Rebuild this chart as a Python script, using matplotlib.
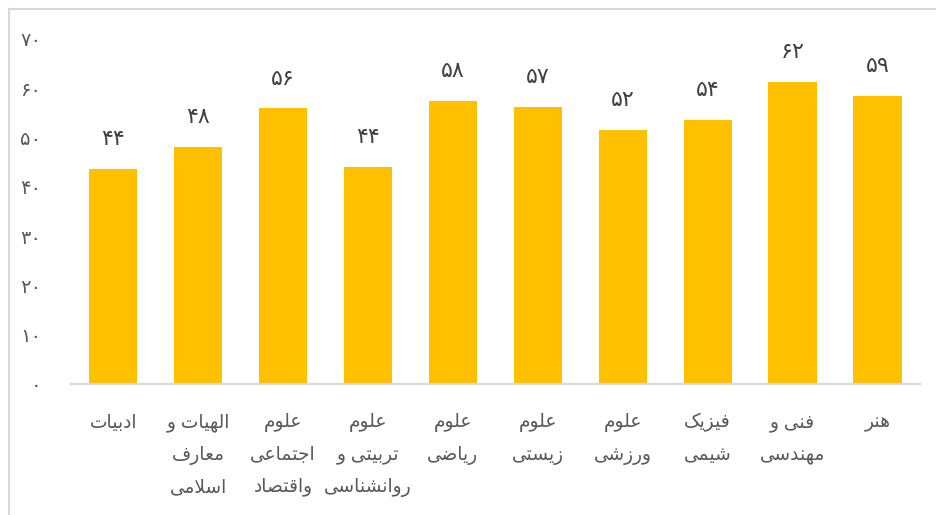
import matplotlib
matplotlib.use("Agg")
import matplotlib.pyplot as plt
from matplotlib.lines import Line2D
import numpy as np

plt.rcParams["font.family"] = ["DejaVu Sans"]

# ---------------------------------------------------------------------
# data
# ---------------------------------------------------------------------
categories = [
    "ادبیات",
    "الهیات و\nمعارف\nاسلامی",
    "علوم\nاجتماعی\nواقتصاد",
    "علوم\nتربیتی و\nروانشناسی",
    "علوم\nریاضی",
    "علوم\nزیستی",
    "علوم\nورزشی",
    "فیزیک\nشیمی",
    "فنی و\nمهندسی",
    "هنر",
]
values = [43.7, 48.1, 55.9, 44.1, 57.4, 56.2, 51.6, 53.6, 61.2, 58.5]
value_labels = [44, 48, 56, 44, 58, 57, 52, 54, 62, 59]
yticks = [0, 10, 20, 30, 40, 50, 60, 70]

BAR = "#FFC000"
TXT = "#595959"
LBL = "#404040"
GRID = "#D9D9D9"

# ---------------------------------------------------------------------
# minimal Arabic/Persian shaping (matplotlib has no bidi / joining)
# ---------------------------------------------------------------------
FORMS = {
    "\u0627": ("\uFE8D", "\uFE8E", None, None),
    "\u0628": ("\uFE8F", "\uFE90", "\uFE91", "\uFE92"),
    "\u062A": ("\uFE95", "\uFE96", "\uFE97", "\uFE98"),
    "\u062C": ("\uFE9D", "\uFE9E", "\uFE9F", "\uFEA0"),
    "\u062F": ("\uFEA9", "\uFEAA", None, None),
    "\u0631": ("\uFEAD", "\uFEAE", None, None),
    "\u0632": ("\uFEAF", "\uFEB0", None, None),
    "\u0633": ("\uFEB1", "\uFEB2", "\uFEB3", "\uFEB4"),
    "\u0634": ("\uFEB5", "\uFEB6", "\uFEB7", "\uFEB8"),
    "\u0635": ("\uFEB9", "\uFEBA", "\uFEBB", "\uFEBC"),
    "\u0636": ("\uFEBD", "\uFEBE", "\uFEBF", "\uFEC0"),
    "\u0639": ("\uFEC9", "\uFECA", "\uFECB", "\uFECC"),
    "\u0641": ("\uFED1", "\uFED2", "\uFED3", "\uFED4"),
    "\u0642": ("\uFED5", "\uFED6", "\uFED7", "\uFED8"),
    "\u0644": ("\uFEDD", "\uFEDE", "\uFEDF", "\uFEE0"),
    "\u0645": ("\uFEE1", "\uFEE2", "\uFEE3", "\uFEE4"),
    "\u0646": ("\uFEE5", "\uFEE6", "\uFEE7", "\uFEE8"),
    "\u0647": ("\uFEE9", "\uFEEA", "\uFEEB", "\uFEEC"),
    "\u0648": ("\uFEED", "\uFEEE", None, None),
    "\u06CC": ("\uFBFC", "\uFBFD", "\uFBFE", "\uFBFF"),
    "\u06A9": ("\uFB8E", "\uFB8F", "\uFB90", "\uFB91"),
}


def dual(c):
    return c in FORMS and FORMS[c][2] is not None


def shape_line(text):
    text = text.replace("\u064A", "\u06CC").replace("\u0643", "\u06A9")
    out = []
    i, n = 0, len(text)
    while i < n:
        c = text[i]
        if c not in FORMS:
            out.append(c)
            i += 1
            continue
        joins_prev = i > 0 and dual(text[i - 1])
        if c == "\u0644" and i + 1 < n and text[i + 1] == "\u0627":
            out.append("\uFEFC" if joins_prev else "\uFEFB")
            i += 2
            continue
        joins_next = dual(c) and i + 1 < n and text[i + 1] in FORMS
        iso, fin, ini, med = FORMS[c]
        if joins_prev and joins_next:
            g = med
        elif joins_prev:
            g = fin
        elif joins_next:
            g = ini
        else:
            g = iso
        out.append(g)
        i += 1
    return "".join(reversed(out))


def rtl(text):
    return "\n".join(shape_line(line) for line in text.split("\n"))


def fa_num(v):
    return str(v).translate(str.maketrans("0123456789", "۰۱۲۳۴۵۶۷۸۹"))


# ---------------------------------------------------------------------
fig = plt.figure(figsize=(9.36, 5.15), dpi=100)
ax = fig.add_axes([0.0755, 0.2544, 0.9075, 0.6699])

x = np.arange(len(categories))
bars = ax.bar(x, values, width=0.57, color=BAR, zorder=2)

ax.set_xlim(-0.5, len(categories) - 0.5)
ax.set_ylim(0, 70)
ax.set_yticks(yticks)
ax.set_yticklabels([fa_num(t) for t in yticks], fontsize=14, color=TXT)
ax.tick_params(axis="y", length=0, pad=21)

ax.set_xticks(x)
ax.set_xticklabels([rtl(c) for c in categories], fontsize=13.4, color=TXT,
                   linespacing=1.85, va="top", ha="center")
ax.tick_params(axis="x", length=0, pad=21)

for s in ("top", "right", "left"):
    ax.spines[s].set_visible(False)
ax.spines["bottom"].set_color(GRID)
ax.spines["bottom"].set_linewidth(1.6)

for b, lab in zip(bars, value_labels):
    ax.annotate(fa_num(lab), (b.get_x() + b.get_width() / 2, b.get_height()),
                xytext=(0, 21.5), textcoords="offset points",
                ha="center", va="center", fontsize=16, color=LBL)

# chart-area border (left and top edges visible in the reference)
bx, by = 8.5 / 936, 1 - 9 / 515
fig.add_artist(Line2D([bx, bx], [0, by], transform=fig.transFigure,
                      color=GRID, lw=1.5))
fig.add_artist(Line2D([bx, 1], [by, by], transform=fig.transFigure,
                      color=GRID, lw=1.5))

fig.savefig("out.png", dpi=100)
